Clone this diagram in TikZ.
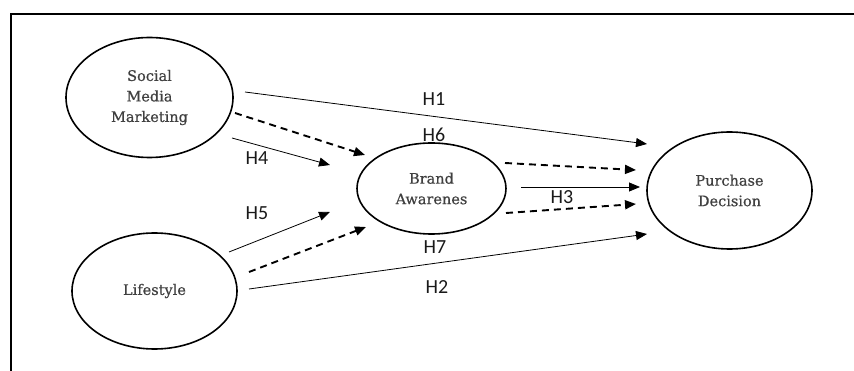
\documentclass[tikz,border=0pt]{standalone}
\usepackage{fontspec}
\setmainfont{DejaVu Serif}
\newfontfamily\cfont[FakeBold=0.6]{DejaVu Serif}
\newfontfamily\hfont{Carlito}
\usetikzlibrary{arrows.meta,calc,shapes.geometric}
\begin{document}
\begin{tikzpicture}[x=1pt,y=-1pt,
  construct/.style={draw,line width=1.6pt,ellipse,inner sep=0pt,
    font=\cfont\fontsize{14.5}{20.5}\selectfont,text=black!75,align=center},
  solidarrow/.style={line width=0.8pt,-{Triangle[length=11pt,width=9pt]}},
  dasharrow/.style={line width=1.9pt,dash pattern=on 7pt off 5pt,-{Triangle[length=11pt,width=9pt]}},
  hlabel/.style={font=\hfont\fontsize{20}{20}\selectfont,inner sep=0pt,text=black!90}]
\useasboundingbox (0,0) rectangle (854,371);
\draw[line width=2.4pt] (11,380) -- (11,14) -- (870,14);
\node[construct,minimum width=167pt,minimum height=120pt] (smm) at (149.5,97.5) {Social\\Media\\Marketing};
\node[construct,minimum width=165pt,minimum height=116pt] (ls) at (154.5,291) {Lifestyle};
\node[construct,minimum width=149pt,minimum height=91pt] (ba) at (431.5,188.5) {Brand\\Awarenes};
\node[construct,minimum width=165pt,minimum height=117pt] (pd) at (729.5,190.5) {Purchase\\Decision};
% connectors
\draw[solidarrow] ($(smm.center)+(95.5,-5.5)$) -- ($(pd.center)+(-82.5,-46.5)$);
\draw[dasharrow] ($(smm.center)+(85.5,15.5)$) -- ($(ba.center)+(-66.5,-33.5)$);
\draw[solidarrow] ($(smm.center)+(82.5,40.5)$) -- ($(ba.center)+(-101.5,-23.5)$);
\draw[solidarrow] ($(ls.center)+(74.5,-39)$) -- ($(ba.center)+(-101.5,23.5)$);
\draw[dasharrow] ($(ls.center)+(94.5,-19)$) -- ($(ba.center)+(-65.5,38.5)$);
\draw[solidarrow] ($(ls.center)+(94.5,-2)$) -- ($(pd.center)+(-82.5,43.5)$);
\draw[solidarrow] ($(ba.center)+(89.5,-1.5)$) -- ($(pd.center)+(-89.5,-3.5)$);
\draw[dasharrow] ($(ba.center)+(73.5,-25.5)$) -- ($(pd.center)+(-93.5,-20.5)$);
\draw[dasharrow] ($(ba.center)+(74.5,24.5)$) -- ($(pd.center)+(-93.5,13.5)$);
% labels
\node[hlabel] (h1) at (434,99) {H1};
\node[hlabel] (h6) at (434,135) {H6};
\node[hlabel] (h4) at (257,158) {H4};
\node[hlabel] (h5) at (257,213) {H5};
\node[hlabel] (h3) at (562,197) {H3};
\node[hlabel] (h7) at (435,247) {H7};
\node[hlabel] (h2) at (437,287) {H2};
\end{tikzpicture}
\end{document}
